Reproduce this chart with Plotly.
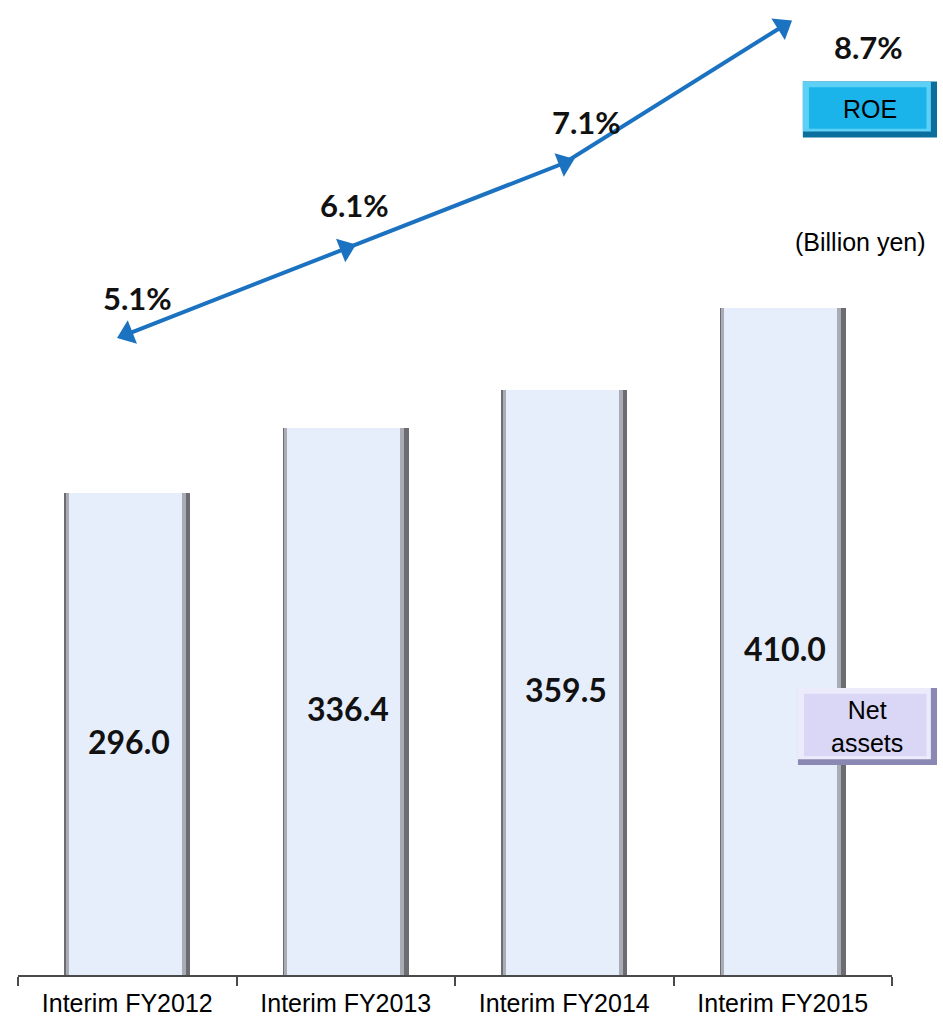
import plotly.graph_objects as go

# Net assets (billion yen) and ROE (%) by interim period
periods = ["Interim FY2012", "Interim FY2013", "Interim FY2014", "Interim FY2015"]
net_assets = [296.0, 336.4, 359.5, 410.0]
roe = [5.1, 6.1, 7.1, 8.7]
roe_labels = ["5.1%", "6.1%", "7.1%", "8.7%"]
asset_labels = ["296.0", "336.4", "359.5", "410.0"]

BAR_W = 0.575
EDGE_L = 0.02
EDGE_R = 0.038
LINE_BLUE = "#1b72c0"
LABEL_FONT = dict(family="Lato", size=32, color="#111111", weight="bold")

fig = go.Figure()

# dark bevel body of each column
fig.add_trace(go.Bar(
    x=periods, y=net_assets, width=BAR_W, offset=-BAR_W / 2,
    marker=dict(color="#6c6c72", line=dict(width=0)),
    hoverinfo="skip", showlegend=False,
))
# softer left bevel
fig.add_trace(go.Bar(
    x=periods, y=net_assets, width=BAR_W - EDGE_R + 0.012,
    offset=-BAR_W / 2 + 0.006,
    marker=dict(color="#a9acb4", line=dict(width=0)),
    hoverinfo="skip", showlegend=False,
))
# light face of each column
fig.add_trace(go.Bar(
    x=periods, y=net_assets, width=BAR_W - EDGE_L - EDGE_R,
    offset=-BAR_W / 2 + EDGE_L,
    marker=dict(color="#e6eefb", line=dict(width=0)),
    showlegend=False,
))

# value labels in the middle of each column
for p, v, t in zip(periods, net_assets, asset_labels):
    fig.add_annotation(
        x=p, y=v / 2, xref="x", yref="y", text=t, showarrow=False,
        xanchor="center", yanchor="middle", xshift=2, yshift=-7,
        font=LABEL_FONT,
    )

# ROE line on the secondary axis, arrow-like markers along the path
fig.add_trace(go.Scatter(
    x=periods, y=roe, yaxis="y2", mode="lines+markers",
    line=dict(color=LINE_BLUE, width=4),
    marker=dict(symbol="triangle-up", size=22, color=LINE_BLUE,
                angleref="previous"),
    cliponaxis=False, showlegend=False,
))
# starting marker, pointing back along the first segment
fig.add_trace(go.Scatter(
    x=[periods[1], periods[0]], y=[roe[1], roe[0]], yaxis="y2", mode="markers",
    marker=dict(symbol="triangle-up", size=22, color=LINE_BLUE,
                angleref="previous"),
    cliponaxis=False, showlegend=False, hoverinfo="skip",
))

# percentage labels next to the ROE points
label_shift = [(10, 36), (9, 44), (22, 41), (86, -21)]
for p, v, t, (dx, dy) in zip(periods, roe, roe_labels, label_shift):
    fig.add_annotation(
        x=p, y=v, xref="x", yref="y2", text=t, showarrow=False,
        xanchor="center", yanchor="middle",
        xshift=dx, yshift=dy,
        font=dict(LABEL_FONT, size=31),
    )


def legend_box(x0, x1, y0, y1, fill, edge, light, text):
    fig.add_shape(type="rect", xref="paper", yref="paper",
                  x0=x0, x1=x1, y0=y0, y1=y1,
                  fillcolor=edge, line=dict(width=0), layer="above")
    fig.add_shape(type="rect", xref="paper", yref="paper",
                  x0=x0, x1=x1 - 0.007, y0=y0 + 0.006, y1=y1,
                  fillcolor=light, line=dict(width=0), layer="above")
    fig.add_shape(type="rect", xref="paper", yref="paper",
                  x0=x0 + 0.007, x1=x1 - 0.012, y0=y0 + 0.009, y1=y1 - 0.006,
                  fillcolor=fill, line=dict(width=0), layer="above")
    fig.add_annotation(xref="paper", yref="paper",
                       x=(x0 + x1) / 2, y=(y0 + y1) / 2,
                       xanchor="center", yanchor="middle",
                       text=text, showarrow=False,
                       font=dict(family="Arial", size=25, color="#000000"))


legend_box(0.898, 1.0515, 0.868, 0.926, "#1bb4ea", "#0a6f9c", "#5fd0f5", "ROE")
legend_box(0.8924, 1.0515, 0.2176, 0.2974, "#d9d7f5", "#8c88b4", "#ecebfb",
           "Net<br>assets")

fig.add_annotation(xref="paper", yref="paper", x=0.9645, y=0.7596,
                   xanchor="center", yanchor="middle",
                   text="(Billion yen)", showarrow=False,
                   font=dict(family="Arial", size=25, color="#000000"))

fig.update_layout(
    width=943, height=1017,
    margin=dict(l=18, r=51, t=10, b=42),
    paper_bgcolor="white", plot_bgcolor="white",
    barmode="overlay", bargap=0,
    xaxis=dict(
        range=[-0.5, len(periods) - 0.5], automargin=False,
        showline=True, linecolor="#4a4a4a", linewidth=2,
        ticks="outside", tickson="boundaries", ticklen=9,
        tickcolor="#4a4a4a", tickwidth=2, ticklabelstandoff=5,
        tickfont=dict(family="Arial", size=25, color="#000000"),
        showgrid=False, zeroline=False,
    ),
    yaxis=dict(range=[0, 593], visible=False, showgrid=False, zeroline=False),
    yaxis2=dict(range=[-2.397, 8.89], overlaying="y", visible=False,
                showgrid=False, zeroline=False),
)

fig.write_html("out.html")
